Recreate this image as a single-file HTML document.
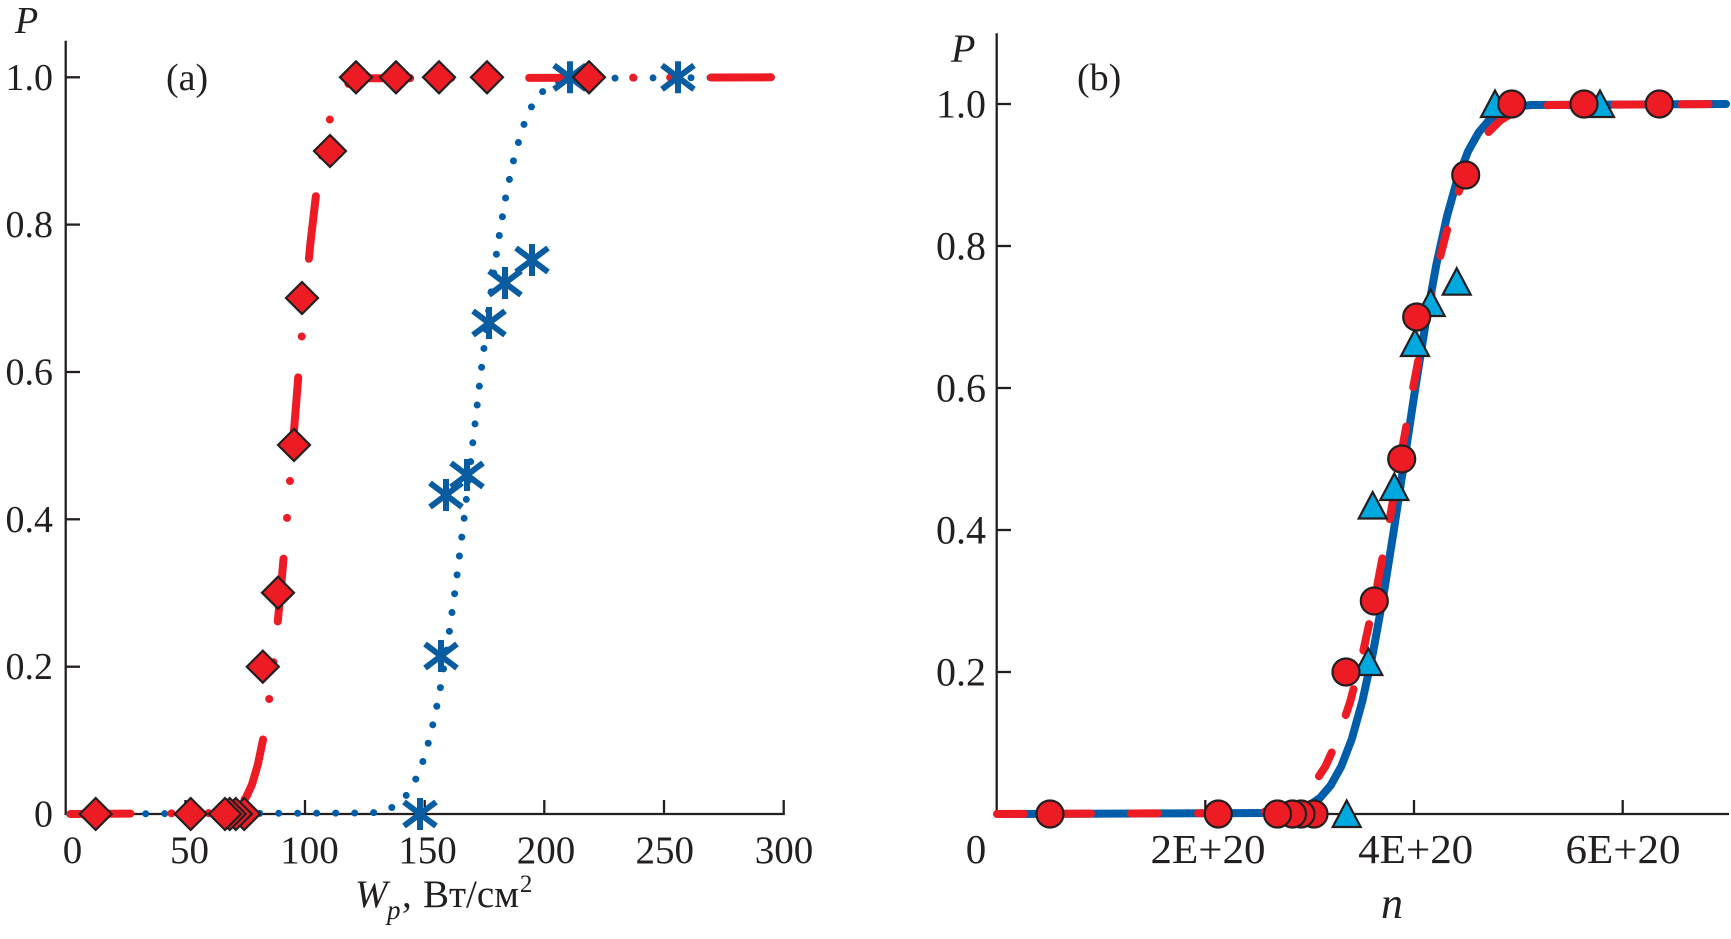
<!DOCTYPE html>
<html>
<head>
<meta charset="utf-8">
<style>
  html, body { margin: 0; padding: 0; background: #ffffff; }
  svg { display: block; }
  text { font-family: "Liberation Serif", "DejaVu Serif", serif; fill: #231F20; }
</style>
</head>
<body>
<svg width="1731" height="939" viewBox="0 0 1731 939" xmlns="http://www.w3.org/2000/svg" font-family="Liberation Serif, DejaVu Serif, serif">
  <defs>
    <path id="star" d="M0,-16 V16 M-16,-12 L16,12 M-16,12 L16,-12" fill="none" stroke="#0A5CA0" stroke-width="6" stroke-linecap="butt"/>
  </defs>
  <rect x="0" y="0" width="1731" height="939" fill="#ffffff"/>

  <!-- ================= PANEL (a) ================= -->
  <g stroke="#231F20" stroke-width="2.3" fill="none">
    <line x1="65.7" y1="40.7" x2="65.7" y2="815"/>
    <line x1="64.5" y1="814" x2="784.8" y2="814"/>
    <line x1="65.7" y1="77.3" x2="80" y2="77.3"/>
    <line x1="65.7" y1="224.6" x2="80" y2="224.6"/>
    <line x1="65.7" y1="372" x2="80" y2="372"/>
    <line x1="65.7" y1="519.3" x2="80" y2="519.3"/>
    <line x1="65.7" y1="666.7" x2="80" y2="666.7"/>
    <line x1="185.4" y1="814" x2="185.4" y2="800"/>
    <line x1="305" y1="814" x2="305" y2="800"/>
    <line x1="424.7" y1="814" x2="424.7" y2="800"/>
    <line x1="544.3" y1="814" x2="544.3" y2="800"/>
    <line x1="664" y1="814" x2="664" y2="800"/>
    <line x1="783.7" y1="814" x2="783.7" y2="800"/>
  </g>

  <g font-size="38" text-anchor="end">
    <text x="53" y="89.8">1.0</text>
    <text x="53" y="237.1">0.8</text>
    <text x="53" y="384.5">0.6</text>
    <text x="53" y="531.8">0.4</text>
    <text x="53" y="679.2">0.2</text>
    <text x="53" y="826.5">0</text>
  </g>
  <g font-size="39" text-anchor="middle">
    <text x="72.5" y="863">0</text>
    <text x="189.5" y="863">50</text>
    <text x="309.5" y="863">100</text>
    <text x="427.5" y="863">150</text>
    <text x="546" y="863">200</text>
    <text x="664.7" y="863">250</text>
    <text x="784" y="863">300</text>
  </g>
  <text x="15" y="33" font-size="38" font-style="italic">P</text>
  <text x="166" y="90" font-size="38">(a)</text>
  <text font-size="39"><tspan x="355" y="907" font-style="italic">W</tspan><tspan x="387" y="919" font-size="27" font-style="italic">p</tspan><tspan x="402" y="907">,</tspan><tspan x="423" y="907">Вт/см</tspan><tspan dx="1" dy="-15" font-size="25">2</tspan></text>

  <!-- blue dotted curve (a) -->
  <path d="M65.7,814 L371.3,813 L379.7,811.8 L388.2,809.4 L396.6,805 L405,797.2 L413.5,784.5 L421.9,764.8 L430.3,736.2 L438.8,697.1 L447.2,647 L455.6,586.7 L464.1,518.4 L472.5,445.6 L480.9,372.9 L489.4,304.6 L497.8,244.2 L506.2,194.2 L514.7,155.1 L523.1,126.5 L531.5,106.8 L540,94.1 L548.4,86.3 L556.8,81.8 L565.3,79.5 L573.7,78.3 L784,77.3"
        fill="none" stroke="#005DAA" stroke-width="7" stroke-linecap="round" stroke-linejoin="round"
        stroke-dasharray="0 19" stroke-dashoffset="15"/>

  <!-- red dash-dot-dot curve (a) -->
  <path d="M70.5,814 L222.9,813 L228.7,811.8 L234.5,809.4 L240.4,805 L246.2,797.2 L252,784.5 L257.8,764.8 L263.7,736.2 L269.5,697.1 L275.3,647 L281.1,586.7 L287,518.4 L292.8,445.6 L298.6,372.9 L304.5,304.6 L310.3,244.2 L316.1,194.2 L321.9,155.1 L327.8,126.5 L333.6,106.8 L339.4,94.1 L345.2,86.3 L351.1,81.8 L356.9,79.5 L362.7,78.3 L771,77.3"
        fill="none" stroke="#ED1C24" stroke-width="8" stroke-linecap="round" stroke-linejoin="round"
        stroke-dasharray="63 41 0 37 0 41" stroke-dashoffset="3"/>

  <use href="#star" x="420" y="814"/>
  <use href="#star" x="441" y="656"/>
  <use href="#star" x="446" y="495"/>
  <use href="#star" x="467" y="475"/>
  <use href="#star" x="489" y="323"/>
  <use href="#star" x="505" y="283"/>
  <use href="#star" x="532" y="260"/>
  <use href="#star" x="570" y="77.3"/>
  <use href="#star" x="678" y="77.3"/>

  <g fill="#ED1C24" stroke="#231F20" stroke-width="2.2" stroke-linejoin="miter">
    <polygon points="244.2,798 260.2,814 244.2,830 228.2,814"/>
    <polygon points="235.8,798 251.8,814 235.8,830 219.8,814"/>
    <polygon points="229.8,798 245.8,814 229.8,830 213.8,814"/>
    <polygon points="225,798 241,814 225,830 209,814"/>
    <polygon points="190.7,798 206.7,814 190.7,830 174.7,814"/>
    <polygon points="95.7,798 111.7,814 95.7,830 79.7,814"/>
    <polygon points="262.8,650.7 278.8,666.7 262.8,682.7 246.8,666.7"/>
    <polygon points="278,576.7 294,592.7 278,608.7 262,592.7"/>
    <polygon points="294,429 310,445 294,461 278,445"/>
    <polygon points="302,282 318,298 302,314 286,298"/>
    <polygon points="330,135 346,151 330,167 314,151"/>
    <polygon points="356,61.3 372,77.3 356,93.3 340,77.3"/>
    <polygon points="396,61.3 412,77.3 396,93.3 380,77.3"/>
    <polygon points="439,61.3 455,77.3 439,93.3 423,77.3"/>
    <polygon points="487,61.3 503,77.3 487,93.3 471,77.3"/>
    <polygon points="589,61.3 605,77.3 589,93.3 573,77.3"/>
  </g>

  <!-- ================= PANEL (b) ================= -->
  <g stroke="#231F20" stroke-width="2.3" fill="none">
    <line x1="996.7" y1="33.3" x2="996.7" y2="815"/>
    <line x1="995.5" y1="814" x2="1729" y2="814"/>
    <line x1="996.7" y1="104" x2="1011" y2="104"/>
    <line x1="996.7" y1="246" x2="1011" y2="246"/>
    <line x1="996.7" y1="388" x2="1011" y2="388"/>
    <line x1="996.7" y1="530" x2="1011" y2="530"/>
    <line x1="996.7" y1="672" x2="1011" y2="672"/>
    <line x1="1205.3" y1="814" x2="1205.3" y2="800"/>
    <line x1="1414" y1="814" x2="1414" y2="800"/>
    <line x1="1622.7" y1="814" x2="1622.7" y2="800"/>
  </g>

  <g font-size="40" text-anchor="end">
    <text x="986" y="117.5">1.0</text>
    <text x="986" y="259.5">0.8</text>
    <text x="986" y="401.5">0.6</text>
    <text x="986" y="543.5">0.4</text>
    <text x="986" y="685.5">0.2</text>
  </g>
  <g font-size="41" text-anchor="middle">
    <text x="976" y="863">0</text>
    <text x="1208" y="863" textLength="115" lengthAdjust="spacingAndGlyphs">2E+20</text>
    <text x="1415.7" y="863" textLength="115" lengthAdjust="spacingAndGlyphs">4E+20</text>
    <text x="1623" y="863" textLength="115" lengthAdjust="spacingAndGlyphs">6E+20</text>
  </g>
  <text x="951" y="62" font-size="40" font-style="italic">P</text>
  <text x="1077" y="90" font-size="38">(b)</text>
  <text x="1381" y="918" font-size="44" font-style="italic">n</text>

  <path d="M1000,814 L1277.8,813 L1288.4,811.9 L1298.9,809.6 L1309.5,805.3 L1320.1,797.8 L1330.6,785.5 L1341.2,766.6 L1351.8,739 L1362.3,701.3 L1372.9,653.1 L1383.5,595 L1394,529.1 L1404.6,459 L1415.2,388.9 L1425.7,323 L1436.3,264.9 L1446.9,216.7 L1457.4,179 L1468,151.4 L1478.6,132.5 L1489.1,120.2 L1499.7,112.7 L1510.3,108.4 L1520.8,106.1 L1531.4,105 L1726,104"
        fill="none" stroke="#005DAA" stroke-width="8" stroke-linecap="round" stroke-linejoin="round"/>

  <path d="M997,814 L1250.1,813 L1262.7,811.9 L1275.2,809.6 L1287.7,805.3 L1300.2,797.8 L1312.8,785.5 L1325.3,766.6 L1337.8,739 L1350.3,701.3 L1362.8,653.1 L1375.4,595 L1387.9,529.1 L1400.4,459 L1412.9,388.9 L1425.4,323 L1438,264.9 L1450.5,216.7 L1463,179 L1475.5,151.4 L1488.1,132.5 L1500.6,120.2 L1513.1,112.7 L1525.6,108.4 L1538.2,106.1 L1550.7,105 L1720,104"
        fill="none" stroke="#ED1C24" stroke-width="8" stroke-linecap="round" stroke-linejoin="round"
        stroke-dasharray="27 40"/>

  <g fill="#00A8E0" stroke="#231F20" stroke-width="2.2" stroke-linejoin="miter">
    <polygon points="1346.7,800.5 1360.7,827 1332.7,827"/>
    <polygon points="1368.3,648.5 1382.3,675 1354.3,675"/>
    <polygon points="1372.7,492 1386.7,518.5 1358.7,518.5"/>
    <polygon points="1394.3,473.5 1408.3,500 1380.3,500"/>
    <polygon points="1415,329.5 1429,356 1401,356"/>
    <polygon points="1430.7,289.5 1444.7,316 1416.7,316"/>
    <polygon points="1456.7,268.2 1470.7,294.7 1442.7,294.7"/>
    <polygon points="1495,90.5 1509,117 1481,117"/>
    <polygon points="1600,90.5 1614,117 1586,117"/>
  </g>

  <g fill="#ED1C24" stroke="#231F20" stroke-width="2.2">
    <circle cx="1314" cy="814" r="13.5"/>
    <circle cx="1301" cy="814" r="13.5"/>
    <circle cx="1292.5" cy="814" r="13.5"/>
    <circle cx="1277.5" cy="814" r="13.5"/>
    <circle cx="1218.3" cy="814" r="13.5"/>
    <circle cx="1050" cy="814" r="13.5"/>
    <circle cx="1346" cy="672" r="13.5"/>
    <circle cx="1374.3" cy="601" r="13.5"/>
    <circle cx="1401.7" cy="459" r="13.5"/>
    <circle cx="1416.7" cy="317" r="13.5"/>
    <circle cx="1465.7" cy="175" r="13.5"/>
    <circle cx="1511.7" cy="104" r="13.5"/>
    <circle cx="1584" cy="104" r="13.5"/>
    <circle cx="1659.3" cy="104" r="13.5"/>
  </g>
</svg>
</body>
</html>
